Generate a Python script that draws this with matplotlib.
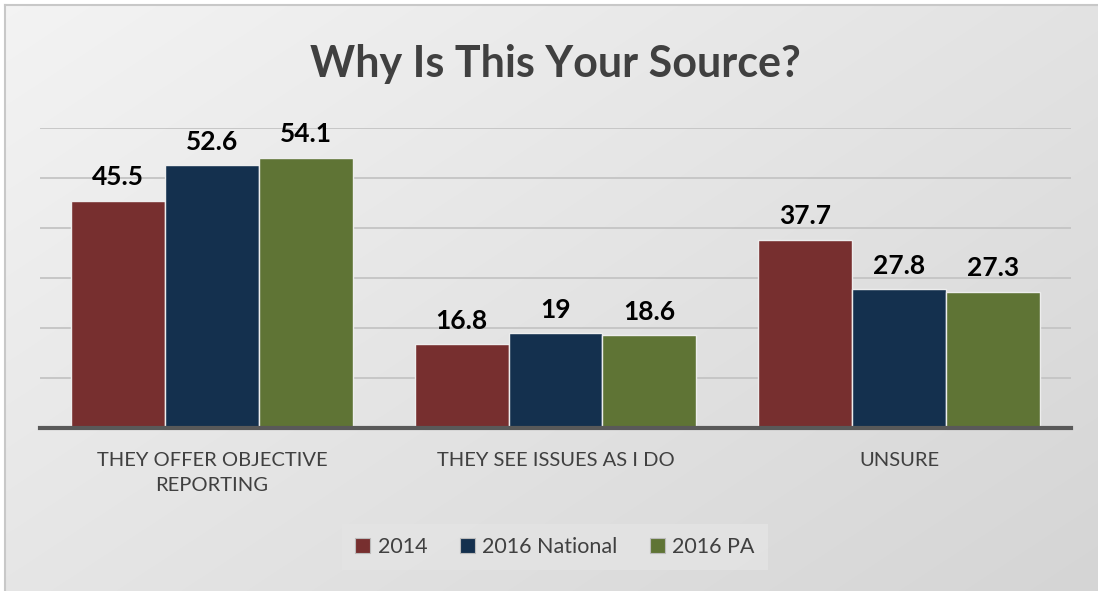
import numpy as np
import matplotlib
matplotlib.use("Agg")
import matplotlib.pyplot as plt
from matplotlib.patches import Patch

plt.rcParams['font.family'] = ['Lato', 'DejaVu Sans']

# Porcentajes por motivo y serie
categorias = ["THEY OFFER OBJECTIVE\nREPORTING", "THEY SEE ISSUES AS I DO", "UNSURE"]
series = ["2014", "2016 National", "2016 PA"]
valores_2014 = [45.5, 16.8, 37.7]
valores_nacional = [52.6, 19, 27.8]
valores_pa = [54.1, 18.6, 27.3]
colores = ["#772F2F", "#14304E", "#5F7435"]

W, H = 1098, 591
fig = plt.figure(figsize=(W / 100, H / 100), dpi=100)
fig.patch.set_facecolor("white")

# Fondo con degradado diagonal
fondo = fig.add_axes([0, 0, 1, 1], zorder=-10)
yy, xx = np.mgrid[0:H, 0:W]
t = (xx / W * 0.55 + yy / H * 0.45)
grad = 0.955 - 0.12 * t
img = np.dstack([grad, grad, grad])
img[:5, :] = 1.0
img[:, :5] = 1.0
fondo.imshow(img, extent=[0, W, H, 0], aspect="auto", interpolation="bilinear")
fondo.plot([5, 5], [5, H], color="#C8C8C8", lw=1.5)
fondo.plot([5, W], [5, 5], color="#C8C8C8", lw=1.5)
fondo.set_xlim(0, W)
fondo.set_ylim(H, 0)
fondo.axis("off")

ax = fig.add_axes([40 / W, 1 - 428 / H, 1031 / W, 300 / H])
ax.patch.set_alpha(0)

x = np.arange(len(categorias))
ancho = 0.2735
datos = [valores_2014, valores_nacional, valores_pa]
for i, (vals, col, nombre) in enumerate(zip(datos, colores, series)):
    pos = x + (i - 1) * ancho
    barras = ax.bar(pos, vals, ancho, color=col, edgecolor="#EDEDED",
                    linewidth=1, label=nombre, zorder=3)
    for b, v in zip(barras, vals):
        ax.annotate(f"{v:g}", (b.get_x() + b.get_width() / 2, v),
                    xytext=(0, 8), textcoords="offset points",
                    ha="center", va="bottom", fontsize=19,
                    fontweight="bold", color="black")

ax.set_xlim(-0.5, 2.5)
ax.set_ylim(0, 60)
ax.set_yticks(np.arange(0, 61, 10))
ax.yaxis.grid(True, color="#C4C4C4", lw=1.3, zorder=0)
ax.tick_params(axis="y", left=False, labelleft=False)
ax.tick_params(axis="x", length=0, pad=17)
ax.set_xticks(x)
ax.set_xticklabels(categorias, fontsize=14.5, color="#404040", linespacing=1.6)
for s in ["top", "right", "left"]:
    ax.spines[s].set_visible(False)
ax.spines["bottom"].set_color("#595959")
ax.spines["bottom"].set_linewidth(3)
ax.spines["bottom"].set_zorder(4)

fig.text(555 / W, 1 - 64 / H, "Why Is This Your Source?", ha="center",
         va="center", fontsize=31, fontweight="bold", color="#404040")

handles = [Patch(facecolor=c, edgecolor="#BBBBBB", lw=0.8) for c in colores]
leg = fig.legend(handles, series, loc="center", bbox_to_anchor=(555 / W, 1 - 547 / H),
                 ncol=3, frameon=True, fontsize=15.5, handlelength=0.7,
                 handleheight=0.7, handletextpad=0.35, columnspacing=1.5,
                 borderpad=0.6, fancybox=False, labelcolor="#404040")
leg.get_frame().set_facecolor("#E4E4E4")
leg.get_frame().set_edgecolor("none")

fig.savefig("out.png", dpi=100)
